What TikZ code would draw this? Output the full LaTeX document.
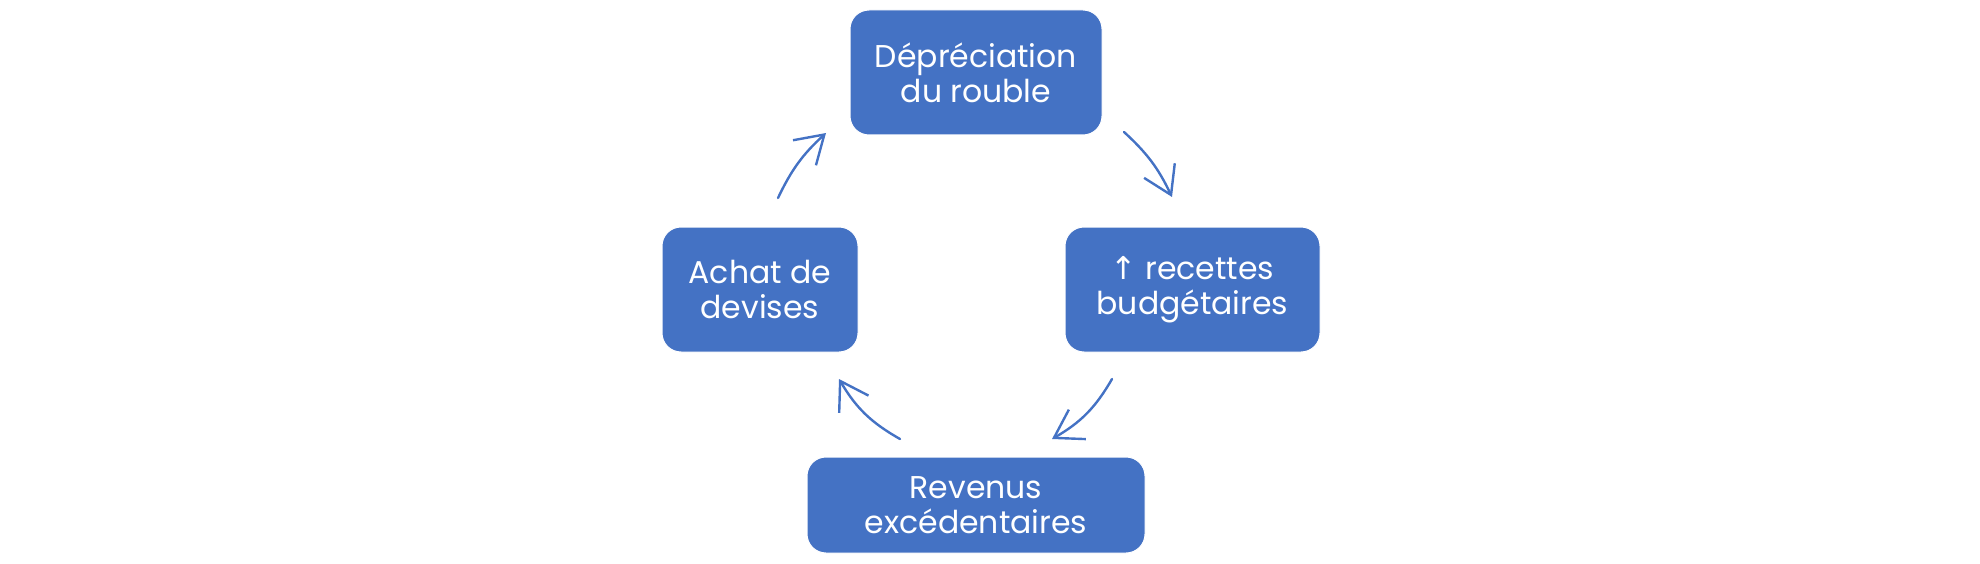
\documentclass[tikz,border=0pt]{standalone}
\usepackage{fontspec}
\setmainfont{Poppins}
\newfontfamily\symfont{DejaVu Sans}
\usetikzlibrary{arrows.meta}
\definecolor{boxblue}{HTML}{4472C4}
\tikzset{
  cyclebox/.style={fill=boxblue, draw=white, line width=1pt, rounded corners=19pt,
    text=white, align=center, inner sep=0pt,
    font=\fontsize{31.5}{35}\selectfont},
  cyclearrow/.style={draw=boxblue, line width=2.4pt, line cap=round,
    -{Straight Barb[length=27pt,width=34pt,line width=2.4pt]}}
}
\begin{document}
\begin{tikzpicture}[x=1pt,y=-1pt]
\useasboundingbox (0,0) rectangle (1980,564);
\node[cyclebox, minimum width=252pt, minimum height=125pt] (top) at (976,72.5) {Dépréciation\\du rouble};
\node[cyclebox, minimum width=255pt, minimum height=125pt] (right) at (1192.5,289.5) {{\symfont ↑} recettes\\budgétaires};
\node[cyclebox, minimum width=338pt, minimum height=96pt] (bottom) at (976,505) {Revenus\\excédentaires};
\node[cyclebox, minimum width=196pt, minimum height=125pt] (left) at (760,289.5) {Achat de\\devises};
\coordinate (a1s) at (1124,132);
\coordinate (a1e) at (1172,197);
\coordinate (a2s) at (1112,379);
\coordinate (a2e) at (1052,439);
\coordinate (a3s) at (900,439);
\coordinate (a3e) at (839,379);
\coordinate (a4s) at (778,198);
\coordinate (a4e) at (826,133);
\draw[cyclearrow] (a1s) to[bend left=11] (a1e);
\draw[cyclearrow] (a2s) to[bend left=15] (a2e);
\draw[cyclearrow] (a3s) to[bend left=15] (a3e);
\draw[cyclearrow] (a4s) to[bend left=11] (a4e);
\end{tikzpicture}
\end{document}
